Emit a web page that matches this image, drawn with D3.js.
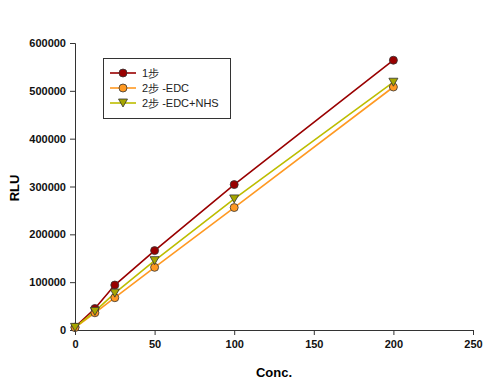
<!DOCTYPE html>
<html><head><meta charset="utf-8">
<script src="https://cdn.jsdelivr.net/npm/d3@7"></script>
<style>body{margin:0;background:#fff}svg{display:block}</style>
</head><body><svg id="c" width="498" height="382"></svg>
<script>
const concs = [0, 12.5, 25, 50, 100, 200];
const seriesNames = ["1步", "2步 -EDC", "2步 -EDC+NHS"];
const step1 = [6000, 45000, 94000, 166000, 304000, 564000];
const step2EDC = [5000, 36000, 67500, 131000, 256000, 508000];
const step2EDCNHS = [5500, 39000, 77000, 145000, 274000, 518000];
const xTicks = [0, 50, 100, 150, 200, 250];
const yTicks = [0, 100000, 200000, 300000, 400000, 500000, 600000];

const svg = d3.select("#c");
const x = d3.scaleLinear().domain([0, 250]).range([75, 473]);
const y = d3.scaleLinear().domain([0, 600000]).range([330, 43]);
const font = "Arial, 'Liberation Sans', sans-serif";

const xAxis = svg.append("g").attr("transform", "translate(0,330)")
  .call(d3.axisBottom(x).tickValues(xTicks).tickSize(5).tickPadding(5).tickFormat(d3.format("d")));
const yAxis = svg.append("g").attr("transform", "translate(75,0)")
  .call(d3.axisLeft(y).tickValues(yTicks).tickSize(5).tickPadding(4).tickFormat(d3.format("d")));
[xAxis, yAxis].forEach(a => {
  a.selectAll("path,line").attr("stroke", "#333").attr("stroke-width", 1);
  a.selectAll("text").attr("font-family", font).attr("font-size", 11).attr("font-weight", "bold").attr("fill", "#111");
});

svg.append("text").attr("x", 274).attr("y", 377).attr("text-anchor", "middle")
  .attr("font-family", font).attr("font-size", 13).attr("font-weight", "bold").text("Conc.");
svg.append("text").attr("transform", "translate(19,188) rotate(-90)").attr("text-anchor", "middle")
  .attr("font-family", font).attr("font-size", 13).attr("font-weight", "bold").text("RLU");

const series = [
  {name: seriesNames[0], vals: step1, line: "#990000", fill: "#990000", shape: "circle"},
  {name: seriesNames[1], vals: step2EDC, line: "#ff9922", fill: "#ff9922", shape: "circle"},
  {name: seriesNames[2], vals: step2EDCNHS, line: "#bdbd00", fill: "#a6a600", shape: "tri"}
];
const line = d3.line().x(d => x(d[0])).y(d => y(d[1]));
const triPath = "M-4.5,-4 L4.5,-4 L0,4 Z";

function marker(g, s, px, py) {
  if (s.shape === "circle") {
    g.append("circle").attr("cx", px).attr("cy", py).attr("r", 4)
      .attr("fill", s.fill).attr("stroke", "#333").attr("stroke-width", 0.8);
  } else {
    g.append("path").attr("d", triPath).attr("transform", `translate(${px},${py})`)
      .attr("fill", s.fill).attr("stroke", "#333").attr("stroke-width", 0.8);
  }
}

series.forEach(s => {
  const pts = concs.map((c, i) => [c, s.vals[i]]);
  svg.append("path").datum(pts).attr("d", line).attr("fill", "none")
    .attr("stroke", s.line).attr("stroke-width", 1.6);
});
series.forEach(s => {
  const g = svg.append("g");
  concs.forEach((c, i) => marker(g, s, x(c), y(s.vals[i])));
});

// legend
const lg = svg.append("g");
lg.append("rect").attr("x", 103.5).attr("y", 58.5).attr("width", 127).attr("height", 60)
  .attr("fill", "#fff").attr("stroke", "#333").attr("stroke-width", 1);
series.forEach((s, i) => {
  const yy = 73 + i * 15;
  lg.append("line").attr("x1", 110).attr("x2", 136).attr("y1", yy).attr("y2", yy)
    .attr("stroke", s.line).attr("stroke-width", 1.6);
  marker(lg, s, 123, yy);
  lg.append("text").attr("x", 142).attr("y", yy + 4).attr("font-family", font)
    .attr("font-size", 11).attr("fill", "#222").text(s.name);
});
</script></body></html>
